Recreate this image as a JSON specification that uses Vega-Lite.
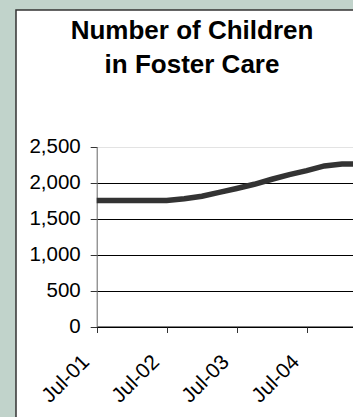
{
  "$schema": "https://vega.github.io/schema/vega-lite/v6.json",
  "width": 337,
  "height": 407,
  "autosize": "none",
  "padding": {"left": 16, "top": 10, "right": 0, "bottom": 0},
  "background": "#c1d3cb",
  "view": {"fill": "#ffffff", "stroke": "#333333", "strokeWidth": 1.5, "strokeDash": [337, 744, 407]},
  "title": {
    "text": ["Number of Children", "in Foster Care"],
    "font": "Liberation Sans",
    "fontSize": 26,
    "fontWeight": "bold",
    "color": "#000000",
    "anchor": "middle",
    "frame": "group",
    "lineHeight": 33.6,
    "offset": -68,
    "dx": 7.5
  },
  "data": {
    "values": [
      {"month": "2001/07/01", "children": 1750},
      {"month": "2001/10/01", "children": 1750},
      {"month": "2002/01/01", "children": 1750},
      {"month": "2002/04/01", "children": 1750},
      {"month": "2002/07/01", "children": 1750},
      {"month": "2002/10/01", "children": 1775},
      {"month": "2003/01/01", "children": 1810},
      {"month": "2003/04/01", "children": 1862},
      {"month": "2003/07/01", "children": 1917},
      {"month": "2003/10/01", "children": 1975},
      {"month": "2004/01/01", "children": 2045},
      {"month": "2004/04/01", "children": 2110},
      {"month": "2004/07/01", "children": 2165},
      {"month": "2004/10/01", "children": 2230},
      {"month": "2005/01/01", "children": 2257},
      {"month": "2005/03/01", "children": 2257}
    ]
  },
  "mark": {"type": "line", "color": "#333333", "strokeWidth": 5.5, "clip": true},
  "encoding": {
    "x": {
      "field": "month",
      "type": "temporal",
      "scale": {
        "domain": [{"year": 2001, "month": 7, "date": 1}, {"year": 2005, "month": 7, "date": 1}],
        "range": [80.7, 360.7]
      },
      "axis": {
        "title": null,
        "orient": "bottom",
        "offset": -90.5,
        "values": [
          {"year": 2001, "month": 7, "date": 1},
          {"year": 2002, "month": 7, "date": 1},
          {"year": 2003, "month": 7, "date": 1},
          {"year": 2004, "month": 7, "date": 1}
        ],
        "format": "%b-%y",
        "grid": false,
        "domainColor": "#000000",
        "domainWidth": 1,
        "tickColor": "#333333",
        "tickSize": 6,
        "labelFont": "Liberation Sans",
        "labelFontSize": 21,
        "labelColor": "#000000",
        "labelAngle": -45,
        "labelAlign": "right",
        "labelBaseline": "middle",
        "labelOffset": -11,
        "labelPadding": 26,
        "labelOverlap": false,
        "labelFlush": false
      }
    },
    "y": {
      "field": "children",
      "type": "quantitative",
      "scale": {"domain": [0, 2500], "range": [316.5, 136.5], "nice": false},
      "axis": {
        "title": null,
        "orient": "left",
        "offset": -80.7,
        "values": [0, 500, 1000, 1500, 2000, 2500],
        "format": ",.0f",
        "grid": true,
        "gridColor": {"condition": {"test": "datum.value == 2500", "value": "#e3e3e3"}, "value": "#000000"},
        "gridWidth": 1,
        "domainColor": "#666666",
        "domainWidth": 1,
        "tickColor": "#333333",
        "tickSize": 6.5,
        "labelFont": "Liberation Sans",
        "labelFontSize": 20.5,
        "labelColor": "#000000",
        "labelPadding": 10,
        "labelFlush": false,
        "labelOverlap": false
      }
    }
  }
}
